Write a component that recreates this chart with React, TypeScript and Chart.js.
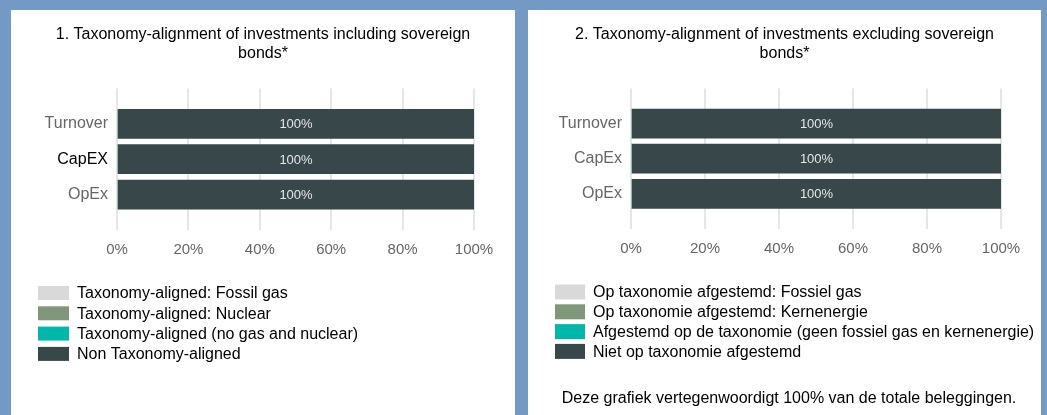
import { useEffect, useRef } from 'react';
import { Chart, registerables } from 'chart.js';

Chart.register(...registerables);

// ---------- data ----------
const TITLE_1 = ['1. Taxonomy-alignment of investments including sovereign', 'bonds*'];
const TITLE_2 = ['2. Taxonomy-alignment of investments excluding sovereign', 'bonds*'];

const CATEGORIES_1 = ['Turnover', 'CapEX', 'OpEx'];
const CATEGORIES_2 = ['Turnover', 'CapEx', 'OpEx'];

const SERIES_LABELS_1 = [
  'Taxonomy-aligned: Fossil gas',
  'Taxonomy-aligned: Nuclear',
  'Taxonomy-aligned (no gas and nuclear)',
  'Non Taxonomy-aligned',
];
const SERIES_LABELS_2 = [
  'Op taxonomie afgestemd: Fossiel gas',
  'Op taxonomie afgestemd: Kernenergie',
  'Afgestemd op de taxonomie (geen fossiel gas en kernenergie)',
  'Niet op taxonomie afgestemd',
];

const FOSSIL_GAS_1 = [0, 0, 0];
const NUCLEAR_1 = [0, 0, 0];
const ALIGNED_1 = [0, 0, 0];
const NON_ALIGNED_1 = [100, 100, 100];

const FOSSIL_GAS_2 = [0, 0, 0];
const NUCLEAR_2 = [0, 0, 0];
const ALIGNED_2 = [0, 0, 0];
const NON_ALIGNED_2 = [100, 100, 100];

const X_TICKS = [0, 20, 40, 60, 80, 100];
const NOTE_2 = 'Deze grafiek vertegenwoordigt 100% van de totale beleggingen.';

// ---------- styles ----------
const FONT = '"Liberation Sans", Arial, Helvetica, sans-serif';
const SERIES_COLORS = ['#d9d9d9', '#80977b', '#00b8a9', '#38474a'];
const BG = '#7599c5';
const TICK_COLORS_1 = ['#666666', '#000000', '#666666'];
const TICK_COLORS_2 = ['#666666', '#666666', '#666666'];

type PanelCfg = {
  left: number;
  width: number;
  title: string[];
  categories: string[];
  tickColors: string[];
  labels: string[];
  series: number[][];
  yAxisWidth: number;
  padRight: number;
  chartBottom: number;
  legendBoxX: number;
  legendBoxW: number;
  legendBoxH: number;
  legendTextX: number;
  legendTop: number;
  legendStep: number;
  note?: string;
  noteX?: number;
  noteY?: number;
};

const PANEL_TOP = 10;
const PANEL_H = 405;
const X_TICK_PAD = 11;
const X_TICK_SIZE = 15;

function Panel({ cfg }: { cfg: PanelCfg }) {
  const ref = useRef<HTMLCanvasElement | null>(null);

  useEffect(() => {
    if (!ref.current) return;
    const labels = ['', ...cfg.categories, ''];
    const datasets = cfg.series.map((vals, i) => ({
      label: cfg.labels[i],
      data: [null, ...vals, null],
      backgroundColor: SERIES_COLORS[i],
      borderWidth: 0,
      barThickness: 29,
      stack: 's',
    }));

    const valueLabels = {
      id: 'valueLabels',
      afterDatasetsDraw(chart: any) {
        const ctx = chart.ctx;
        ctx.save();
        ctx.font = `13px ${FONT}`;
        ctx.fillStyle = '#e6e6e6';
        ctx.textAlign = 'center';
        ctx.textBaseline = 'middle';
        chart.data.datasets.forEach((ds: any, di: number) => {
          const meta = chart.getDatasetMeta(di);
          meta.data.forEach((bar: any, i: number) => {
            const v = ds.data[i];
            if (v == null || v <= 0) return;
            const { x, y, base } = bar.getProps(['x', 'y', 'base'], true);
            ctx.fillText(`${v}%`, (x + base) / 2, y + 1);
          });
        });
        ctx.restore();
      },
    };

    const customLegend = {
      id: 'customLegend',
      afterDraw(chart: any) {
        const ctx = chart.ctx;
        ctx.save();
        ctx.font = `16px ${FONT}`;
        ctx.textAlign = 'left';
        ctx.textBaseline = 'middle';
        chart.data.datasets.forEach((ds: any, i: number) => {
          const y = cfg.legendTop + i * cfg.legendStep;
          ctx.fillStyle = ds.backgroundColor;
          ctx.fillRect(cfg.legendBoxX, y - cfg.legendBoxH / 2, cfg.legendBoxW, cfg.legendBoxH);
          ctx.fillStyle = '#000000';
          ctx.fillText(ds.label, cfg.legendTextX, y + 1);
        });
        if (cfg.note) {
          ctx.textAlign = 'center';
          ctx.fillText(cfg.note, cfg.noteX, cfg.noteY);
        }
        ctx.restore();
      },
    };

    const xAxisHeight = X_TICK_SIZE * 1.2 + X_TICK_PAD * 2;

    const chart = new Chart(ref.current, {
      type: 'bar',
      data: { labels, datasets: datasets as any },
      options: {
        indexAxis: 'y',
        animation: false,
        responsive: false,
        devicePixelRatio: 1,
        layout: { padding: { left: 0, right: 0, top: 0, bottom: PANEL_H - cfg.chartBottom - xAxisHeight } },
        plugins: {
          legend: { display: false },
          tooltip: { enabled: false },
          title: {
            display: true,
            text: cfg.title,
            color: '#000000',
            font: { family: FONT, size: 16, weight: 'normal', lineHeight: 1.2 },
            padding: { top: 15, bottom: 25 },
          },
        },
        scales: {
          x: {
            type: 'linear',
            stacked: true,
            min: 0,
            max: 100,
            afterBuildTicks: (s: any) => {
              s.ticks = X_TICKS.map((v) => ({ value: v }));
            },
            ticks: {
              padding: X_TICK_PAD,
              color: '#666666',
              font: { family: FONT, size: X_TICK_SIZE },
              callback: (v: any) => `${v}%`,
            },
            grid: { color: '#e6e6e6', lineWidth: 2, drawTicks: false },
            border: { display: false },
          },
          y: {
            type: 'category',
            stacked: true,
            offset: false,
            afterFit: (s: any) => {
              s.width = cfg.yAxisWidth;
            },
            ticks: {
              padding: 9,
              autoSkip: false,
              font: { family: FONT, size: 16 },
              color: (c: any) => cfg.tickColors[c.index - 1] ?? '#666666',
            },
            grid: { display: false, drawTicks: false },
            border: { display: false },
          },
          spacer: {
            type: 'linear',
            position: 'right',
            display: true,
            ticks: { display: false },
            grid: { display: false, drawTicks: false },
            border: { display: false },
            afterFit: (s: any) => {
              s.width = cfg.padRight;
            },
          },
        },
      },
      plugins: [valueLabels, customLegend],
    });
    return () => chart.destroy();
  }, [cfg]);

  return (
    <div
      style={{
        position: 'absolute',
        left: cfg.left,
        top: PANEL_TOP,
        width: cfg.width,
        height: PANEL_H,
        background: '#ffffff',
      }}
    >
      <canvas ref={ref} width={cfg.width} height={PANEL_H} style={{ display: 'block', width: cfg.width, height: PANEL_H }} />
    </div>
  );
}

const PANEL_1: PanelCfg = {
  left: 11,
  width: 504,
  title: TITLE_1,
  categories: CATEGORIES_1,
  tickColors: TICK_COLORS_1,
  labels: SERIES_LABELS_1,
  series: [FOSSIL_GAS_1, NUCLEAR_1, ALIGNED_1, NON_ALIGNED_1],
  yAxisWidth: 106,
  padRight: 41,
  chartBottom: 220,
  legendBoxX: 27,
  legendBoxW: 31,
  legendBoxH: 14,
  legendTextX: 66,
  legendTop: 283,
  legendStep: 20.3,
};

const PANEL_2: PanelCfg = {
  left: 528,
  width: 513,
  title: TITLE_2,
  categories: CATEGORIES_2,
  tickColors: TICK_COLORS_2,
  labels: SERIES_LABELS_2,
  series: [FOSSIL_GAS_2, NUCLEAR_2, ALIGNED_2, NON_ALIGNED_2],
  yAxisWidth: 103,
  padRight: 40,
  chartBottom: 219,
  legendBoxX: 27,
  legendBoxW: 30,
  legendBoxH: 15,
  legendTextX: 65,
  legendTop: 282,
  legendStep: 19.8,
  note: NOTE_2,
  noteX: 261,
  noteY: 389,
};

export default function App() {
  return (
    <div
      style={{
        position: 'fixed',
        left: 0,
        top: 0,
        width: 1047,
        height: 415,
        background: BG,
        overflow: 'hidden',
      }}
    >
      <Panel cfg={PANEL_1} />
      <Panel cfg={PANEL_2} />
    </div>
  );
}
